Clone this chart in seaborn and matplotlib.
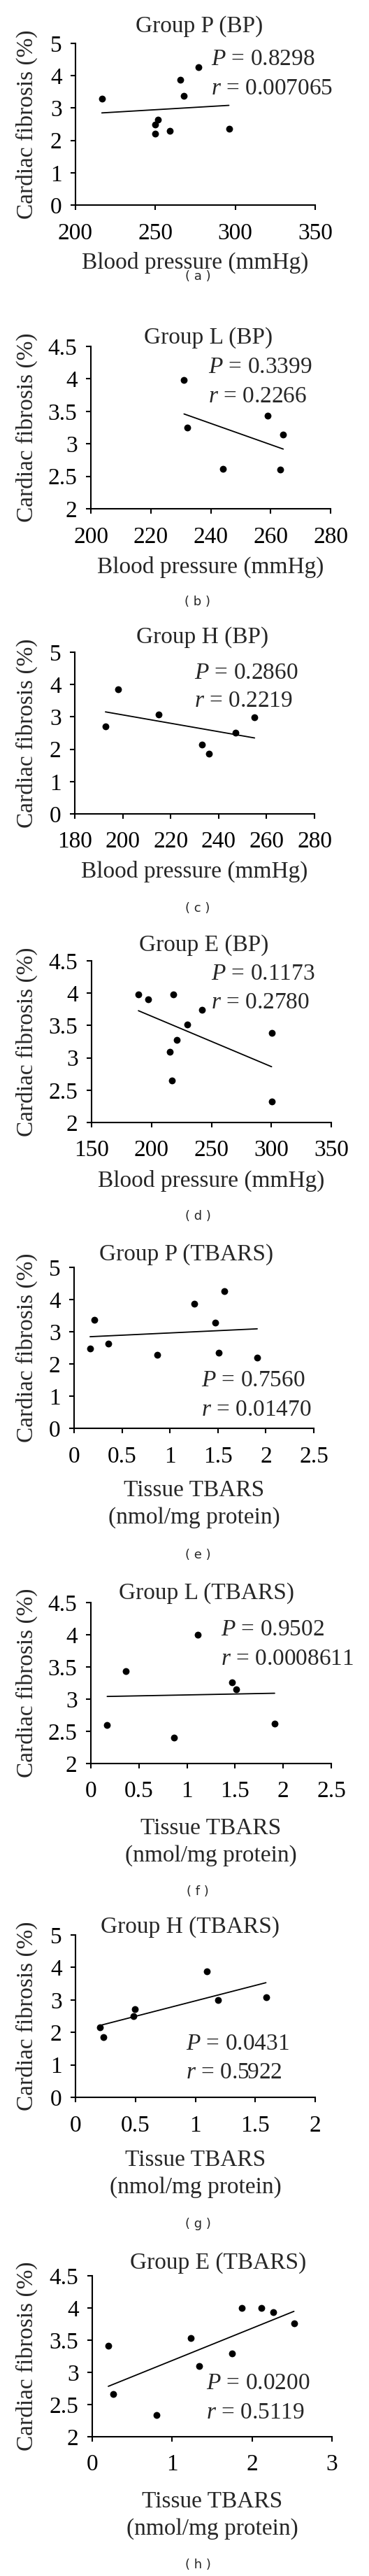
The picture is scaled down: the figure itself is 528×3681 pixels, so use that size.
import numpy as np
import seaborn as sns
import matplotlib.pyplot as plt
from matplotlib.ticker import FuncFormatter

# --- data ---
# blood pressure panels
bp_P = [216.5, 249.7, 249.7, 251.8, 258.9, 265.7, 267.9, 277.0, 296.0]
fib_P_bp = [3.28, 2.49, 2.20, 2.64, 2.30, 3.87, 3.37, 4.27, 2.36]
bp_L = [231.1, 232.1, 244.1, 259.1, 263.1, 264.2]
fib_L_bp = [3.98, 3.25, 2.61, 3.43, 2.60, 3.14]
bp_H = [192.8, 198.0, 215.0, 233.0, 235.9, 247.0, 255.0]
fib_H_bp = [2.71, 3.86, 3.07, 2.14, 1.86, 2.51, 2.99]
bp_E = [189.1, 197.0, 218.0, 242.3, 230.1, 221.3, 215.3, 217.2, 300.2, 300.2]
fib_E_bp = [3.98, 3.91, 3.98, 3.74, 3.51, 3.28, 3.09, 2.65, 3.39, 2.33]

# TBARS panels
tb_P = [0.167, 0.214, 0.359, 0.867, 1.250, 1.473, 1.570, 1.510, 1.910]
fib_P_tb = [2.48, 3.37, 2.63, 2.29, 3.86, 3.28, 4.26, 2.35, 2.19]
tb_L = [0.170, 0.363, 0.867, 1.112, 1.470, 1.514, 1.911]
fib_L_tb = [2.60, 3.44, 2.40, 4.00, 3.26, 3.15, 2.62]
tb_H = [0.204, 0.235, 0.482, 0.496, 1.099, 1.189, 1.589]
fib_H_tb = [2.15, 1.86, 2.51, 2.71, 3.87, 2.99, 3.08]
tb_E = [0.201, 0.263, 0.808, 1.231, 1.339, 1.745, 1.868, 2.116, 2.261, 2.524]
fib_E_tb = [3.41, 2.66, 2.34, 3.53, 3.10, 3.29, 4.00, 4.00, 3.93, 3.76]

titles = ["Group P (BP)", "Group L (BP)", "Group H (BP)", "Group E (BP)",
          "Group P (TBARS)", "Group L (TBARS)", "Group H (TBARS)", "Group E (TBARS)"]
p_vals = ["0.8298", "0.3399", "0.2860", "0.1173", "0.7560", "0.9502", "0.0431", "0.0200"]
r_vals = ["0.007065", "0.2266", "0.2219", "0.2780", "0.01470", "0.0008611", "0.5922", "0.5119"]
letters = ["a", "b", "c", "d", "e", "f", "g", "h"]
xs = [bp_P, bp_L, bp_H, bp_E, tb_P, tb_L, tb_H, tb_E]
ys = [fib_P_bp, fib_L_bp, fib_H_bp, fib_E_bp, fib_P_tb, fib_L_tb, fib_H_tb, fib_E_tb]
xticks = [[200, 250, 300, 350], [200, 220, 240, 260, 280], [180, 200, 220, 240, 260, 280],
          [150, 200, 250, 300, 350], [0, 0.5, 1, 1.5, 2, 2.5], [0, 0.5, 1, 1.5, 2, 2.5],
          [0, 0.5, 1, 1.5, 2], [0, 1, 2, 3]]
yticks = [[0, 1, 2, 3, 4, 5], [2, 2.5, 3, 3.5, 4, 4.5], [0, 1, 2, 3, 4, 5],
          [2, 2.5, 3, 3.5, 4, 4.5], [0, 1, 2, 3, 4, 5], [2, 2.5, 3, 3.5, 4, 4.5],
          [0, 1, 2, 3, 4, 5], [2, 2.5, 3, 3.5, 4, 4.5]]
bp_label = "Blood pressure (mmHg)"
tb_label = "Tissue TBARS\n(nmol/mg protein)"

# --- layout (pixels) ---
W, H = 528, 3681
boxes = [(108, 62, 451, 293), (130, 495, 473, 727), (107, 932, 450, 1163), (131, 1373, 474, 1604),
         (106, 1811, 449, 2041), (130, 2290, 474, 2520), (108, 2765, 451, 2997), (132, 3252, 475, 3482)]
title_pos = [(285, 38), (298, 483), (290, 911), (292, 1351),
             (267, 1793), (295, 2277), (272, 2754), (312, 3234)]
letter_y = [395, 860, 1298, 1738, 2222, 2703, 3178, 3665]
xlabel_off = [82, 83, 82, 83, 108, 112, 109, 112]
stat_pos = [(0.565, 0.90, 0.72), (0.49, 0.87, 0.69), (0.50, 0.87, 0.70), (0.50, 0.92, 0.74),
            (0.53, 0.295, 0.114), (0.54, 0.83, 0.65), (0.46, 0.33, 0.15), (0.475, 0.33, 0.15)]

sns.set_style("ticks")
plt.rcParams['font.family'] = ['Liberation Serif', 'DejaVu Serif']
plt.rcParams['mathtext.fontset'] = 'custom'
plt.rcParams['mathtext.rm'] = 'Liberation Serif'
plt.rcParams['mathtext.it'] = 'Liberation Serif:italic'

FS = 24
fig = plt.figure(figsize=(W / 100, H / 100), dpi=100)

for i in range(8):
    l, t, r, b = boxes[i]
    ax = fig.add_axes([l / W, 1 - b / H, (r - l) / W, (b - t) / H])
    sns.regplot(x=np.array(xs[i]), y=np.array(ys[i]), ax=ax, ci=None, color="black",
                scatter_kws=dict(s=50, linewidths=0, alpha=1), line_kws=dict(lw=1.3))
    ax.set_xlim(xticks[i][0], xticks[i][-1])
    ax.set_ylim(yticks[i][0], yticks[i][-1])
    ax.set_xticks(xticks[i])
    ax.set_yticks(yticks[i])
    fmt = FuncFormatter(lambda v, pos: "{:g}".format(v))
    ax.xaxis.set_major_formatter(fmt)
    ax.yaxis.set_major_formatter(fmt)
    sns.despine(ax=ax)
    for s in ["left", "bottom"]:
        ax.spines[s].set_linewidth(1.5)
        ax.spines[s].set_color("black")
    ax.tick_params(axis="both", length=5, width=1.5, color="black", labelsize=FS, labelcolor="black")
    ax.tick_params(axis="x", pad=13)
    ax.tick_params(axis="y", pad=9)

    ax.set_ylabel("Cardiac fibrosis (%)", fontsize=FS)
    ax.yaxis.set_label_coords((38 - l) / (r - l), 0.5)
    ax.yaxis.label.set_va("center")

    two_line = i >= 4
    ax.set_xlabel(tb_label if two_line else bp_label, fontsize=FS, linespacing=1.35)
    ax.xaxis.set_label_coords(0.5, -xlabel_off[i] / (b - t))
    ax.xaxis.label.set_va("center")

    sx, py, ry = stat_pos[i]
    ax.text(sx, py, "$P$ = " + p_vals[i], transform=ax.transAxes, fontsize=FS, va="center")
    ax.text(sx, ry, "$r$ = " + r_vals[i], transform=ax.transAxes, fontsize=FS, va="center")

    tx, ty = title_pos[i]
    fig.text(tx / W, 1 - ty / H, titles[i], fontsize=FS, ha="center", va="center")
    fig.text(283 / W, 1 - letter_y[i] / H, "( " + letters[i] + " )", fontsize=13,
             family="DejaVu Sans", ha="center", va="center")

fig.savefig("out.png", dpi=100)
